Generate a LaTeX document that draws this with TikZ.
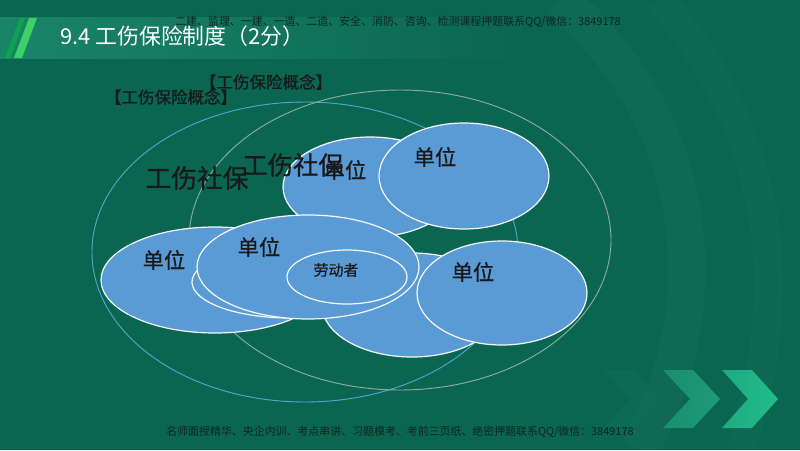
\documentclass[tikz,border=0pt]{standalone}
\usepackage{fontspec}
\setmainfont{Noto Sans CJK SC}
\newfontfamily\medfont[FakeBold=0.7]{Noto Sans CJK SC}
\usepackage{tikz}
\usetikzlibrary{shapes.geometric}

\definecolor{bggreen}{RGB}{11,102,81}
\definecolor{barlight}{RGB}{26,132,104}
\definecolor{unitblue}{RGB}{91,155,213}
\definecolor{ringcyan}{RGB}{78,168,200}
\definecolor{ringgray}{RGB}{140,172,160}
\definecolor{chevA}{RGB}{18,120,95}
\definecolor{chevB}{RGB}{30,155,118}
\definecolor{chevC}{RGB}{34,188,140}
\definecolor{wmtext}{RGB}{12,40,32}

\newcommand{\fsz}[1]{\fontsize{#1}{#1}\selectfont}

\begin{document}
\begin{tikzpicture}[x=0.75pt, y=-0.75pt,
    unitell/.style={ellipse, draw=white!94!unitblue, line width=0.9pt, fill=unitblue, inner sep=0pt},
    ring/.style={ellipse, line width=0.7pt, inner sep=0pt},
    lbl/.style={text=black!90, inner sep=0pt, font=\medfont\fsz{16}},
    wm/.style={text=wmtext, inner sep=0pt, font=\fsz{8.2}}]
  % background and title bar
  \fill[bggreen] (0,0) rectangle (800,450);
  \useasboundingbox (0,0) rectangle (800,450);
  \draw[white, opacity=0.018, line width=28pt] (560,0) .. controls (700,120) and (720,300) .. (640,450);
  \draw[white, opacity=0.015, line width=22pt] (660,0) .. controls (780,140) and (790,300) .. (740,450);
  \shade[left color=barlight, right color=bggreen] (0,17) rectangle (530,58);
  \fill[green!55!teal, opacity=0.5] (20,18) -- (25,18) -- (10,58) -- (5,58) -- cycle;
  \fill[green!60!teal!75!white, opacity=0.9] (29,18) -- (37,18) -- (22,58) -- (14,58) -- cycle;
  \node[anchor=west, text=white, inner sep=0pt, font=\fsz{16.4}] (title) at (60,36) {9.4 工伤保险制度（2分）};

  % outer rings
  \node[ring, draw=ringcyan, minimum width=319.5pt, minimum height=225pt] (ringa) at (305,252) {};
  \node[ring, draw=ringgray, minimum width=316.5pt, minimum height=225pt] (ringb) at (400,240) {};

  % unit ellipses
  \node[unitell, minimum width=130.5pt, minimum height=75pt] (dwa) at (370,187) {};
  \node[unitell, minimum width=171pt, minimum height=79.5pt] (dwb) at (215,280) {};
  \node[unitell, minimum width=135pt, minimum height=78pt] (dwc) at (412,305) {};
  \node[unitell, minimum width=147pt, minimum height=54pt] (dwd) at (290,282) {};
  \node[unitell, minimum width=127.5pt, minimum height=79.5pt] (dwe) at (464,176) {};
  \node[unitell, minimum width=127.5pt, minimum height=78pt] (dwf) at (502,293) {};
  \node[unitell, minimum width=166.5pt, minimum height=78pt] (dwg) at (308,267) {};
  \node[unitell, minimum width=90pt, minimum height=40.5pt] (worker) at (347,277) {};

  % labels
  \node[lbl] (lbla) at (345,170) {单位};
  \node[lbl] (lble) at (435,157) {单位};
  \node[lbl] (lblb) at (164,260) {单位};
  \node[lbl] (lblg) at (259,247) {单位};
  \node[lbl] (lblf) at (473,272) {单位};
  \node[lbl, font=\medfont\fsz{11.2}] (lblw) at (336,270) {劳动者};
  \node[lbl, font=\medfont\fsz{19.3}] (sbone) at (197,178) {工伤社保};
  \node[lbl, font=\medfont\fsz{19}] (sbtwo) at (293,165) {工伤社保};
  \node[lbl, font=\medfont\fsz{12.4}] (gxone) at (266,82) {【工伤保险概念】};
  \node[lbl, font=\medfont\fsz{12.4}] (gxtwo) at (171,97) {【工伤保险概念】};

  % chevrons
  \fill[chevA, opacity=0.3] (604,370) -- (634,370) -- (660,399) -- (634,428) -- (604,428) -- (630,399) -- cycle;
  \shade[left color=chevB!75!bggreen, right color=chevB] (663,370) -- (693,370) -- (720,399) -- (693,428) -- (663,428) -- (690,399) -- cycle;
  \shade[left color=chevC!80!bggreen, right color=chevC] (722,370) -- (752,370) -- (778,399) -- (752,428) -- (722,428) -- (748,399) -- cycle;

  % watermark lines
  \node[wm] (wmtop) at (398,22) {二建、监理、一建、一造、二造、安全、消防、咨询、检测课程押题联系QQ/微信：3849178};
  \node[wm] (wmbot) at (400,432) {名师面授精华、央企内训、考点串讲、习题模考、考前三页纸、绝密押题联系QQ/微信：3849178};
\end{tikzpicture}
\end{document}
